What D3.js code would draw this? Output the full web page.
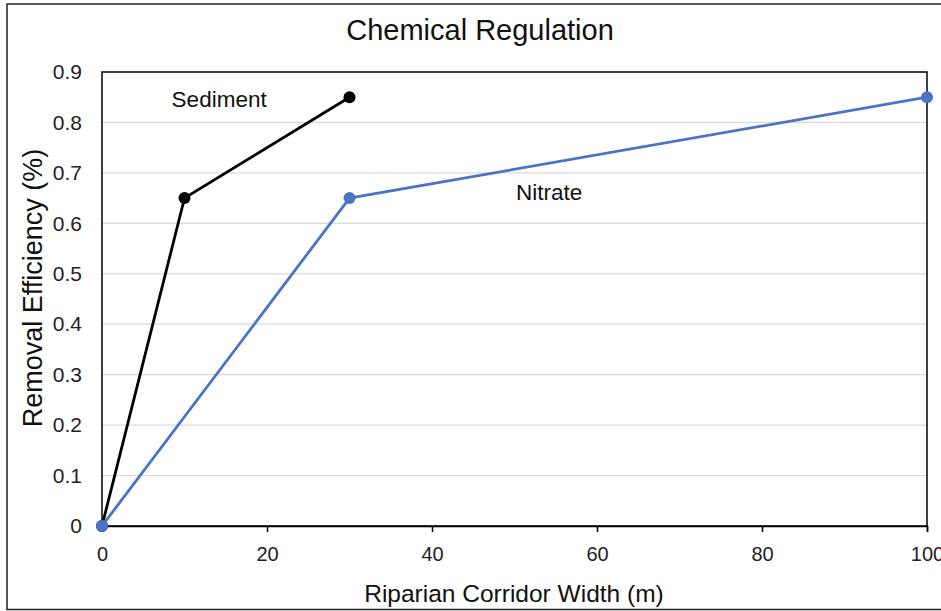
<!DOCTYPE html>
<html><head><meta charset="utf-8">
<script src="https://cdn.jsdelivr.net/npm/d3@7"></script>
<style>body{margin:0;background:#fff}svg{display:block}</style>
</head><body>
<svg id="c" width="941" height="611"></svg>
<script>
const title = "Chemical Regulation";
const xTitle = "Riparian Corridor Width (m)";
const yTitle = "Removal Efficiency (%)";
const xTicks = [0, 20, 40, 60, 80, 100];
const yTicks = [0, 0.1, 0.2, 0.3, 0.4, 0.5, 0.6, 0.7, 0.8, 0.9];
const sedimentX = [0, 10, 30];
const sedimentY = [0, 0.65, 0.85];
const nitrateX = [0, 30, 100];
const nitrateY = [0, 0.65, 0.85];
const seriesNames = ["Sediment", "Nitrate"];
const seriesColors = ["#000000", "#4a74c4"];
const labelPos = [[14.2, 0.846], [54.2, 0.662]];

const svg = d3.select("#c");
const m = {l:102, r:927, t:72, b:526};
const x = d3.scaleLinear().domain([0,100]).range([m.l, m.r]);
const y = d3.scaleLinear().domain([0,0.9]).range([m.b, m.t]);
const font = "'Liberation Sans', Arial, sans-serif";

// outer frame
svg.append("rect").attr("x",7).attr("y",4).attr("width",960).attr("height",605.5)
  .attr("fill","none").attr("stroke","#222").attr("stroke-width",1.5);

// gridlines
svg.append("g").selectAll("line").data(yTicks.filter(d=>d>0&&d<0.9)).join("line")
  .attr("x1",m.l).attr("x2",m.r).attr("y1",d=>y(d)).attr("y2",d=>y(d))
  .attr("stroke","#d9d9d9").attr("stroke-width",1.2);

// plot border
svg.append("rect").attr("x",m.l).attr("y",m.t).attr("width",m.r-m.l).attr("height",m.b-m.t)
  .attr("fill","none").attr("stroke","#000").attr("stroke-width",1.5);

// x axis
const xa = svg.append("g").attr("transform",`translate(0,${m.b})`)
  .call(d3.axisBottom(x).tickValues(xTicks).tickSize(6).tickPadding(15).tickFormat(d3.format("d")));
xa.select(".domain").attr("stroke","#000").attr("stroke-width",1.5);
xa.selectAll(".tick line").attr("stroke","#000").attr("stroke-width",1.5);
xa.selectAll("text").attr("font-family",font).attr("font-size",20).attr("fill","#222");

// y axis
const ya = svg.append("g").attr("transform",`translate(${m.l},0)`)
  .call(d3.axisLeft(y).tickValues(yTicks).tickSize(0).tickPadding(20).tickFormat(d=>d===0?"0":d3.format(".1f")(d)));
ya.select(".domain").remove();
ya.selectAll("text").attr("font-family",font).attr("font-size",21).attr("fill","#222");

// series
const series = [
  sedimentX.map((d,i)=>[d, sedimentY[i]]),
  nitrateX.map((d,i)=>[d, nitrateY[i]])
];
const line = d3.line().x(d=>x(d[0])).y(d=>y(d[1]));
series.forEach((s,i)=>{
  svg.append("path").datum(s).attr("d",line).attr("fill","none")
    .attr("stroke",seriesColors[i]).attr("stroke-width",2.8);
  svg.append("g").selectAll("circle").data(s).join("circle")
    .attr("cx",d=>x(d[0])).attr("cy",d=>y(d[1])).attr("r",6).attr("fill",seriesColors[i]);
});

// series labels
seriesNames.forEach((n,i)=>{
  svg.append("text").attr("x",x(labelPos[i][0])).attr("y",y(labelPos[i][1])).attr("dy","0.35em")
    .attr("text-anchor","middle").attr("font-family",font).attr("font-size",22.5).attr("fill","#111").text(n);
});

// titles
svg.append("text").attr("x",480).attr("y",40).attr("text-anchor","middle")
  .attr("font-family",font).attr("font-size",29).attr("fill","#111").text(title);
svg.append("text").attr("x",514).attr("y",602).attr("text-anchor","middle")
  .attr("font-family",font).attr("font-size",24.5).attr("fill","#111").text(xTitle);
svg.append("text").attr("transform","translate(42,288) rotate(-90)").attr("text-anchor","middle")
  .attr("font-family",font).attr("font-size",27).attr("fill","#111").text(yTitle);
</script>
</body></html>
